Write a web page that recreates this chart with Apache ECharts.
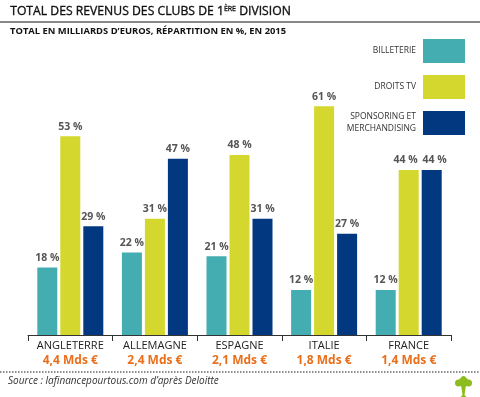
<!DOCTYPE html>
<html><head><meta charset="utf-8">
<script src="https://cdn.jsdelivr.net/npm/echarts@6/dist/echarts.min.js"></script>
<style>html,body{margin:0;padding:0;background:#fff}#c{width:480px;height:397px}</style>
</head><body><div id="c"></div>
<script>
var countries = ['ANGLETERRE', 'ALLEMAGNE', 'ESPAGNE', 'ITALIE', 'FRANCE'];
var totals = ['4,4 Mds €', '2,4 Mds €', '2,1 Mds €', '1,8 Mds €', '1,4 Mds €'];
var billetterie = [18, 22, 21, 12, 12];
var droitsTV = [53, 31, 48, 61, 44];
var sponsoring = [29, 47, 31, 27, 44];
var seriesNames = ['BILLETERIE', 'DROITS TV', 'SPONSORING ET\nMERCHANDISING'];
var colors = ['#43adb2', '#d4d72d', '#023880'];

var F = '"Open Sans", sans-serif';
var chart = echarts.init(document.getElementById('c'));
var lbl = {show: true, position: 'top', distance: 4, formatter: '{c} %', color: '#555', fontWeight: 'bold', fontSize: 10.5, fontFamily: F};
// nudge labels apart where neighbouring bars have equal heights
var labelShift = [0, -3, 3];
function mk(name, data, i) {
  var items = data.map(function (v, k) {
    var next = [billetterie, droitsTV, sponsoring];
    var clash = (i === 1 && sponsoring[k] === v) || (i === 2 && droitsTV[k] === v);
    return clash ? {value: v, label: {offset: [labelShift[i], 0]}} : v;
  });
  return {name: name, type: 'bar', data: items, barWidth: 20, barGap: '15%',
    itemStyle: {color: colors[i]}, label: lbl};
}
chart.setOption({
  animation: false,
  textStyle: {fontFamily: F},
  grid: {left: 28, right: 29, top: 72.5, bottom: 62},
  legend: {
    orient: 'vertical', right: 15, top: 39, align: 'right', padding: 0,
    itemWidth: 42, itemHeight: 24, itemGap: 12,
    icon: 'rect',
    textStyle: {color: '#333', fontSize: 8.5, fontFamily: F, align: 'right', lineHeight: 12, padding: [0, 2, 0, 0]},
    data: seriesNames
  },
  xAxis: {
    type: 'category', data: countries,
    axisLine: {lineStyle: {color: '#333', width: 1}},
    axisTick: {show: true, length: 6, lineStyle: {color: '#333'}},
    axisLabel: {
      interval: 0, margin: 4,
      formatter: function (v, i) { return '{a|' + v + '}\n{b|' + totals[i] + '}'; },
      rich: {
        a: {color: '#222', fontSize: 11, fontFamily: F, lineHeight: 14},
        b: {color: '#ea6f1b', fontSize: 12, fontWeight: 'bold', fontFamily: F, lineHeight: 15}
      }
    }
  },
  yAxis: {type: 'value', min: 0, max: 70, show: false, splitLine: {show: false}},
  series: [mk(seriesNames[0], billetterie, 0), mk(seriesNames[1], droitsTV, 1), mk(seriesNames[2], sponsoring, 2)],
  graphic: [
    {type: 'text', left: 10, top: 5, style: {
      text: 'TOTAL DES REVENUS DES CLUBS DE 1{s|ÈRE} DIVISION',
      fontSize: 12.2, fontFamily: F, fill: '#111', stroke: '#111', lineWidth: 0.35,
      rich: {s: {fontSize: 7, fontFamily: F, fill: '#111', stroke: '#111', lineWidth: 0.3, verticalAlign: 'top', padding: [0, 0, 5, 0]}}
    }},
    {type: 'line', shape: {x1: 0, y1: 22, x2: 480, y2: 22}, style: {stroke: '#111', lineWidth: 1}},
    {type: 'text', left: 10, top: 27, style: {
      text: 'TOTAL EN MILLIARDS D\u2019EUROS, RÉPARTITION EN %, EN 2015',
      fontSize: 9.4, fontWeight: 'bold', fontFamily: F, fill: '#111'
    }},
    {type: 'line', shape: {x1: 0, y1: 372, x2: 480, y2: 372}, style: {stroke: '#666', lineWidth: 1.5, lineDash: [1.5, 1.5]}},
    {type: 'text', left: 8, top: 376, style: {
      text: 'Source : lafinancepourtous.com d\u2019après Deloitte',
      fontSize: 10, fontStyle: 'italic', fontFamily: F, fill: '#333'
    }},
    {type: 'group', left: 455, top: 376, children: [
      {type: 'circle', shape: {cx: 9, cy: 6, r: 5}, style: {fill: '#8dbd1c'}},
      {type: 'circle', shape: {cx: 4, cy: 7, r: 3.5}, style: {fill: '#8dbd1c'}},
      {type: 'circle', shape: {cx: 14, cy: 7, r: 3.5}, style: {fill: '#8dbd1c'}},
      {type: 'circle', shape: {cx: 9, cy: 2.5, r: 2.5}, style: {fill: '#8dbd1c'}},
      {type: 'polygon', shape: {points: [[6.5, 9], [11.5, 9], [10, 19], [12, 21], [6, 21], [8, 19]]}, style: {fill: '#8dbd1c'}}
    ]}
  ]
});
</script>
</body></html>
